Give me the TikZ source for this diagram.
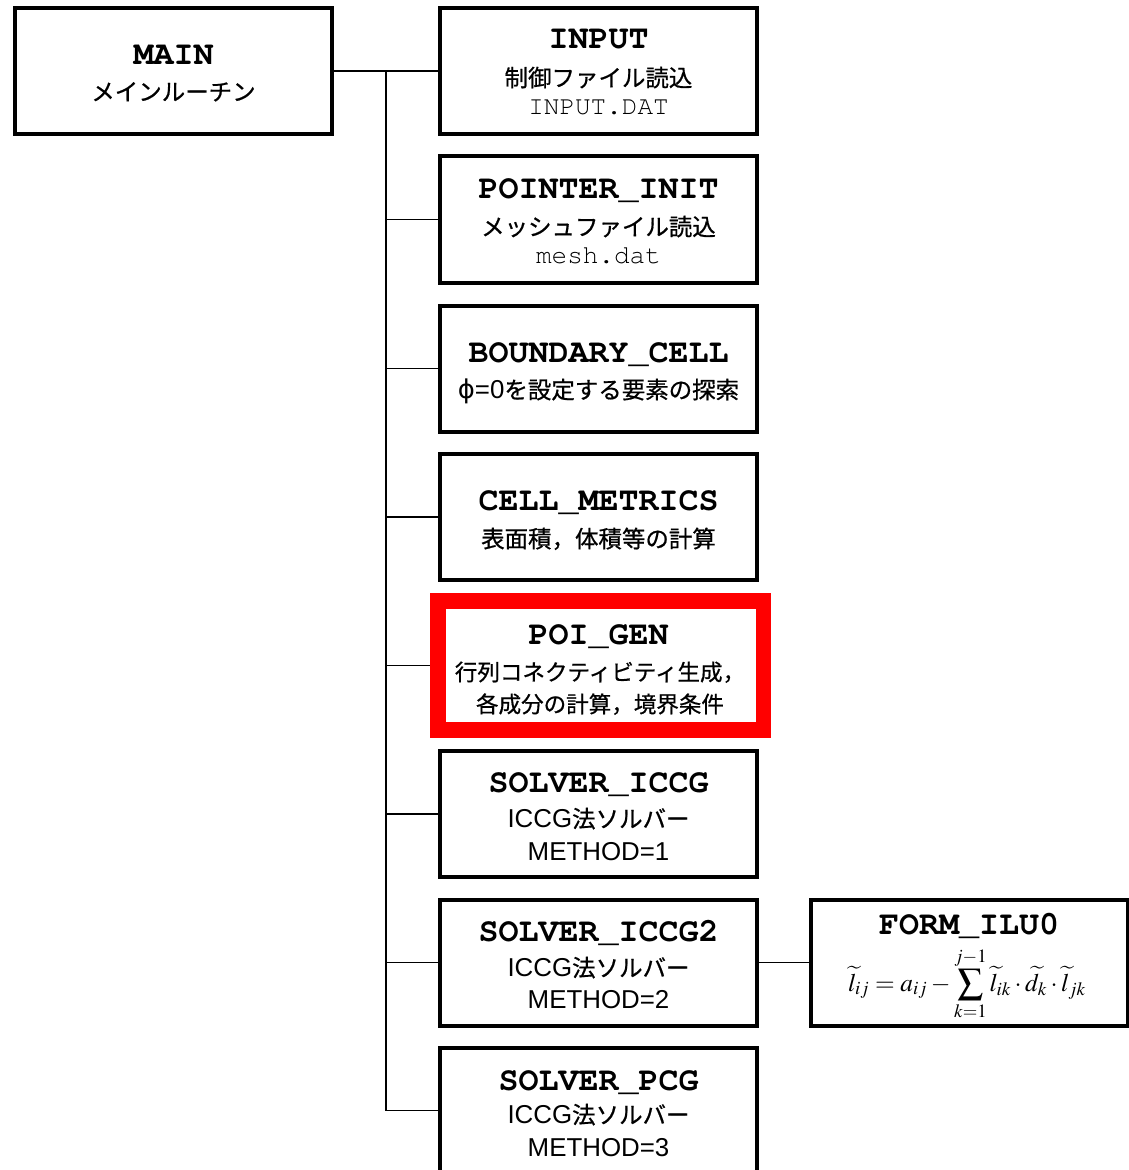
\documentclass[tikz,border=0pt]{standalone}
\usepackage{mathptmx}
\usepackage{fontspec}
\setmainfont{Liberation Sans}
\setmonofont{TeX Gyre Cursor}
\newfontfamily\jpfont[FakeBold=0.7]{Noto Sans CJK JP}
\newfontfamily\phifont{DejaVu Sans}
\newcommand\jp{\fontsize{17.6}{21}\jpfont}
\newcommand\lat{\fontsize{19.4}{22}\rmfamily}
\newcommand\ttl{\fontsize{25}{28}\ttfamily\bfseries}
\newcommand\fname{\fontsize{19.5}{22}\ttfamily}
\begin{document}
\begin{tikzpicture}
    [x=0.75pt,y=-0.75pt,
    box/.style={draw,line width=3pt,minimum width=237.75pt,minimum height=94.5pt,inner sep=0pt},
    hot/.style={draw=red,line width=11.6pt,minimum width=244pt,minimum height=96.75pt,inner sep=0pt},
    wire/.style={line width=1.2pt},
    title/.style={anchor=base,font=\ttl},
    jtext/.style={anchor=base,font=\jp},
    ftext/.style={anchor=base,font=\fname},
    ltext/.style={anchor=base,font=\lat}]
    \useasboundingbox (0,0) rectangle (1128,1170);
    %main routine
    \node[box] (main) at (173.5,71) {};
    \node[title] (tmain) at (173.5,65) {MAIN};
    \node[jtext] (jmain) at (173.5,100.5) {メインルーチン};
    %subroutines
    \node[box] (input) at (598.5,71) {};
    \node[title] (tinput) at (598.5,49) {INPUT};
    \node[jtext] (jinput) at (598.5,86.5) {制御ファイル読込};
    \node[ftext] (finput) at (598.5,114.5) {INPUT.DAT};
    \node[box] (pinit) at (598.5,219.5) {};
    \node[title] (tpinit) at (598.5,198) {POINTER\_INIT};
    \node[jtext] (jpinit) at (598.5,235.5) {メッシュファイル読込};
    \node[ftext] (fpinit) at (598.5,263.5) {mesh.dat};
    \node[box] (bcell) at (598.5,368.5) {};
    \node[title] (tbcell) at (598.5,362.5) {BOUNDARY\_CELL};
    \node[jtext] (jbcell) at (598.5,398.5) {{\lat\phifont ϕ}{\lat =0}を設定する要素の探索};
    \node[box] (metric) at (598.5,517) {};
    \node[title] (tmetric) at (598.5,510.5) {CELL\_METRICS};
    \node[jtext] (jmetric) at (598.5,547.5) {表面積，体積等の計算};
    \node[hot] (poigen) at (600.75,665.5) {};
    \node[title] (tpoigen) at (598.5,644.5) {POI\_GEN};
    \node[jtext,font=\jp\fontsize{16.9}{20}\selectfont] (jpoigen) at (600,680.5) {行列コネクティビティ生成，};
    \node[jtext,font=\jp\fontsize{16.9}{20}\selectfont] (kpoigen) at (600,712.5) {各成分の計算，境界条件};
    \node[box] (iccg) at (598.5,814) {};
    \node[title] (ticcg) at (598.5,792.5) {SOLVER\_ICCG};
    \node[jtext] (jiccg) at (598.5,827.5) {{\lat ICCG}法ソルバー};
    \node[ltext] (miccg) at (598.5,860) {METHOD=1};
    \node[box] (iccgb) at (598.5,962.5) {};
    \node[title] (ticcgb) at (598.5,941.5) {SOLVER\_ICCG2};
    \node[jtext] (jiccgb) at (598.5,976.5) {{\lat ICCG}法ソルバー};
    \node[ltext] (miccgb) at (598.5,1008) {METHOD=2};
    \node[box] (pcg) at (598.5,1110.5) {};
    \node[title] (tpcg) at (598.5,1090.5) {SOLVER\_PCG};
    \node[jtext] (jpcg) at (598.5,1123.5) {{\lat ICCG}法ソルバー};
    \node[ltext] (mpcg) at (598.5,1156) {METHOD=3};
    %factorization
    \node[box] (ilu) at (969,962.5) {};
    \node[title] (tilu) at (969,934) {FORM\_ILU0};
    \node[anchor=base,font=\fontsize{19}{22}\selectfont] (eqilu) at (967,991)
    {$\displaystyle \widetilde{l}_{ij}=a_{ij}-\sum_{k=1}^{j-1}\widetilde{l}_{ik}\cdot\widetilde{d}_{k}\cdot\widetilde{l}_{jk}$};
    %lines
    \coordinate (trunk) at (386,71);
    \draw[wire] (main.east) -- (input.west);
    \draw[wire] (trunk) |- (pinit.west);
    \draw[wire] (trunk) |- (bcell.west);
    \draw[wire] (trunk) |- (metric.west);
    \draw[wire] (trunk) |- (poigen.west);
    \draw[wire] (trunk) |- (iccg.west);
    \draw[wire] (trunk) |- (iccgb.west);
    \draw[wire] (trunk) |- (pcg.west);
    \draw[wire] (iccgb.east) -- (ilu.west);
\end{tikzpicture}
\end{document}
